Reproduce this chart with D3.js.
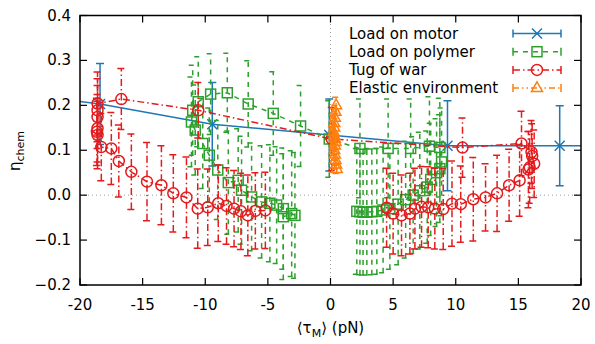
<!DOCTYPE html>
<html lang="en">
<head>
<meta charset="UTF-8">
<script src="https://cdnjs.cloudflare.com/ajax/libs/d3/7.8.5/d3.min.js"></script>
<style>
  body { margin: 0; background: #fff; }
  svg { font-family: "DejaVu Sans", sans-serif; }
</style>
</head>
<body>
<svg width="595" height="344"></svg>
<script>
const xTicks = [-20, -15, -10, -5, 0, 5, 10, 15, 20];
const yTicks = [-0.2, -0.1, 0, 0.1, 0.2, 0.3, 0.4];
const seriesNames = ['Load on motor', 'Load on polymer', 'Tug of war', 'Elastic environment'];

// load on motor (two outer points lie off the chart, only their line shows)
const motorX = [-26, -18.4, -9.44, -0.1, 9.34, 18.3, 26];
const motorY = [0.23, 0.203, 0.158, 0.134, 0.11, 0.11, 0.11];
const motorErr = [0.09, 0.09, 0.093, 0.08, 0.1, 0.089, 0.09];

// load on polymer
const polymerX = [-2.84, -3.1, -3.77, -3.77, -4.3, -4.84, -5.5, -6.3, -7.1, -7.37, -8.16, -9.0, -9.68, -10.2, -10.8, -11.1, -11.0, -10.56,
  -9.57, -8.24, -6.57, -4.57, -2.39, -0.1, 2.35, 4.6, 6.4, 7.9, 8.73,
  8.87, 8.73, 8.47, 8.0, 7.72, 7.13, 6.6, 6.0, 5.4, 4.74, 4.2, 3.7, 3.3, 2.9, 2.6, 2.35, 2.1];
const polymerY = [-0.045, -0.041, -0.048, -0.03, -0.022, -0.018, -0.015, -0.004, 0.011, 0.033, 0.028, 0.056, 0.089, 0.115, 0.145, 0.163, 0.189, 0.208,
  0.225, 0.228, 0.203, 0.182, 0.154, 0.125, 0.104, 0.104, 0.104, 0.109, 0.106,
  0.074, 0.059, 0.05, 0.035, 0.018, 0.01, 0.0, -0.01, -0.02, -0.03, -0.033, -0.036, -0.037, -0.038, -0.038, -0.037, -0.036];
const polymerErr = [0.14, 0.14, 0.14, 0.135, 0.13, 0.13, 0.125, 0.12, 0.12, 0.115, 0.115, 0.11, 0.105, 0.1, 0.1, 0.1, 0.1, 0.1,
  0.09, 0.088, 0.096, 0.093, 0.09, 0.085, 0.11, 0.11, 0.11, 0.11, 0.11,
  0.12, 0.12, 0.12, 0.125, 0.125, 0.13, 0.13, 0.13, 0.135, 0.135, 0.14, 0.14, 0.14, 0.14, 0.14, 0.14, 0.14];

// tug of war
const tugX = [-5.2, -6.0, -6.6, -7.15, -7.7, -8.3, -8.96, -9.8, -10.6, -11.5, -12.55, -13.5, -14.65, -15.9, -16.9, -17.5, -18.3,
  -18.6, -18.65, -18.6, -18.6, -18.6, -18.6, -16.7, -10.56, 0.1, 10.54, 15.25,
  16.05, 16.1, 16.26, 15.9, 15.8, 15.1, 14.26, 13.3, 12.38, 11.4, 10.4, 9.7, 9.0, 8.33, 7.8, 7.27, 6.74, 6.34, 5.67, 5.0, 4.48];
const tugY = [-0.034, -0.035, -0.045, -0.036, -0.03, -0.024, -0.018, -0.027, -0.03, -0.005, 0.004, 0.022, 0.03, 0.052, 0.076, 0.104, 0.107,
  0.134, 0.141, 0.149, 0.174, 0.189, 0.204, 0.214, 0.189, 0.125, 0.106, 0.115,
  0.096, 0.087, 0.07, 0.062, 0.057, 0.033, 0.022, 0.004, -0.005, -0.009, -0.02, -0.019, -0.031, -0.03, -0.027, -0.026, -0.03, -0.041, -0.045, -0.041, -0.028];
const tugErr = [0.085, 0.085, 0.09, 0.085, 0.085, 0.085, 0.085, 0.085, 0.088, 0.09, 0.086, 0.088, 0.087, 0.084, 0.08, 0.08, 0.075,
  0.075, 0.075, 0.075, 0.07, 0.07, 0.07, 0.068, 0.062, 0.07, 0.066, 0.072,
  0.07, 0.072, 0.075, 0.08, 0.085, 0.08, 0.08, 0.085, 0.075, 0.093, 0.085, 0.095, 0.09, 0.09, 0.09, 0.09, 0.09, 0.09, 0.09, 0.09, 0.088];

// elastic environment
const elasticX = [0.45, 0.4, 0.35, 0.3, 0.3, 0.25, 0.3, 0.35, 0.4, 0.35, 0.3, 0.35, 0.4, 0.45, 0.5];
const elasticY = [0.2, 0.185, 0.172, 0.16, 0.15, 0.14, 0.132, 0.125, 0.118, 0.11, 0.1, 0.09, 0.078, 0.068, 0.058];
const elasticErr = [0.018, 0.015, 0.015, 0.014, 0.014, 0.012, 0.012, 0.012, 0.012, 0.012, 0.012, 0.012, 0.012, 0.01, 0.01];

const margin = {left: 80, right: 14, top: 15.5, bottom: 59};
const W = 595, H = 344;
const svg = d3.select('svg');

const x = d3.scaleLinear().domain([-20, 20]).range([margin.left, W - margin.right]);
const y = d3.scaleLinear().domain([-0.2, 0.4]).range([H - margin.bottom, margin.top]);

svg.append('defs').append('clipPath').attr('id', 'plotclip')
    .append('rect')
    .attr('x', x(-20)).attr('y', y(0.4))
    .attr('width', x(20) - x(-20)).attr('height', y(-0.2) - y(0.4));

// zero axes
const zero = svg.append('g').attr('stroke', '#a0a0a0').attr('stroke-width', 1).attr('stroke-dasharray', '1,3');
zero.append('line').attr('x1', x(-20)).attr('x2', x(20)).attr('y1', y(0)).attr('y2', y(0));
zero.append('line').attr('x1', x(0)).attr('x2', x(0)).attr('y1', y(-0.2)).attr('y2', y(0.4));

function zip(xs, ys, es) {
    return xs.map((v, i) => ({x: v, y: ys[i], e: es[i]}));
}

const markers = {
    cross: (g, r) => g.append('path').attr('d', `M${-r},${-r}L${r},${r}M${-r},${r}L${r},${-r}`),
    square: (g, r) => g.append('rect').attr('x', -r).attr('y', -r).attr('width', 2 * r).attr('height', 2 * r),
    circle: (g, r) => g.append('circle').attr('r', r),
    triangle: (g, r) => g.append('path').attr('d', `M0,${-r * 1.15}L${r},${r * 0.6}L${-r},${r * 0.6}Z`)
};

const series = [
    {data: zip(motorX, motorY, motorErr), color: '#1f77b4', dash: null, marker: 'cross', size: 5},
    {data: zip(polymerX, polymerY, polymerErr), color: '#2ca02c', dash: '5,5', marker: 'square', size: 5},
    {data: zip(tugX, tugY, tugErr), color: '#e41a1c', dash: '7,3,1.5,3', marker: 'circle', size: 5.5},
    {data: zip(elasticX, elasticY, elasticErr), color: '#ff7f0e', dash: '6,3,1.5,3,1.5,3', marker: 'triangle', size: 5.5}
];

const inside = d => d.x >= -20 && d.x <= 20 && d.y >= -0.2 && d.y <= 0.4;
const cap = 4;
const line = d3.line().x(d => x(d.x)).y(d => y(d.y));

series.forEach(s => {
    const g = svg.append('g')
        .attr('stroke', s.color).attr('fill', 'none').attr('stroke-width', 1.5);

    g.append('path')
        .attr('clip-path', 'url(#plotclip)')
        .attr('stroke-dasharray', s.dash)
        .attr('d', line(s.data));

    const pts = s.data.filter(inside);

    const eb = g.append('g').attr('stroke-dasharray', s.dash);
    eb.selectAll('path').data(pts).enter().append('path')
        .attr('d', d => {
            const cx = x(d.x), y1 = y(d.y + d.e), y2 = y(d.y - d.e);
            return `M${cx},${y2}L${cx},${y1}M${cx - cap},${y1}L${cx + cap},${y1}M${cx - cap},${y2}L${cx + cap},${y2}`;
        });

    pts.forEach(d => {
        const m = g.append('g').attr('transform', `translate(${x(d.x)},${y(d.y)})`);
        markers[s.marker](m, s.size);
    });
});

// border
svg.append('rect')
    .attr('x', x(-20)).attr('y', y(0.4))
    .attr('width', x(20) - x(-20)).attr('height', y(-0.2) - y(0.4))
    .attr('fill', 'none').attr('stroke', '#000').attr('stroke-width', 1.5);

// ticks, inward on all four sides
const tk = 7;
const ticks = svg.append('g').attr('stroke', '#000').attr('stroke-width', 1.2);
xTicks.forEach(t => {
    ticks.append('line').attr('x1', x(t)).attr('x2', x(t)).attr('y1', y(-0.2)).attr('y2', y(-0.2) - tk);
    ticks.append('line').attr('x1', x(t)).attr('x2', x(t)).attr('y1', y(0.4)).attr('y2', y(0.4) + tk);
});
yTicks.forEach(t => {
    ticks.append('line').attr('x1', x(-20)).attr('x2', x(-20) + tk).attr('y1', y(t)).attr('y2', y(t));
    ticks.append('line').attr('x1', x(20)).attr('x2', x(20) - tk).attr('y1', y(t)).attr('y2', y(t));
});

const labels = svg.append('g').attr('font-size', 15).attr('fill', '#000');
xTicks.forEach(t => {
    labels.append('text').attr('x', x(t)).attr('y', 310).attr('text-anchor', 'middle').text(t);
});
yTicks.forEach(t => {
    labels.append('text').attr('x', 71).attr('y', y(t) + 5).attr('text-anchor', 'end').text(d3.format('.1f')(t));
});

// axis titles
const xl = labels.append('text').attr('x', x(0)).attr('y', 333).attr('text-anchor', 'middle');
xl.append('tspan').text('\u27e8\u03c4');
xl.append('tspan').attr('font-size', 11).attr('dy', 4).text('M');
xl.append('tspan').attr('dy', -4).text('\u27e9 (pN)');

const yl = labels.append('text').attr('transform', 'translate(20,151) rotate(-90)').attr('text-anchor', 'middle');
yl.append('tspan').text('\u03b7');
yl.append('tspan').attr('font-size', 11).attr('dy', 4).text('chem');

// legend
const legend = svg.append('g');
series.forEach((s, i) => {
    const ly = 33.5 + i * 18.2;
    legend.append('text').attr('x', 349).attr('y', ly + 5).attr('font-size', 15).text(seriesNames[i]);
    const g = legend.append('g').attr('stroke', s.color).attr('fill', 'none').attr('stroke-width', 1.5);
    g.append('path').attr('stroke-dasharray', s.dash)
        .attr('d', `M513,${ly}L561,${ly}`);
    g.append('path').attr('d', `M513,${ly - cap}L513,${ly + cap}M561,${ly - cap}L561,${ly + cap}`);
    const m = g.append('g').attr('transform', `translate(537,${ly})`);
    markers[s.marker](m, s.size);
});
</script>
</body>
</html>
